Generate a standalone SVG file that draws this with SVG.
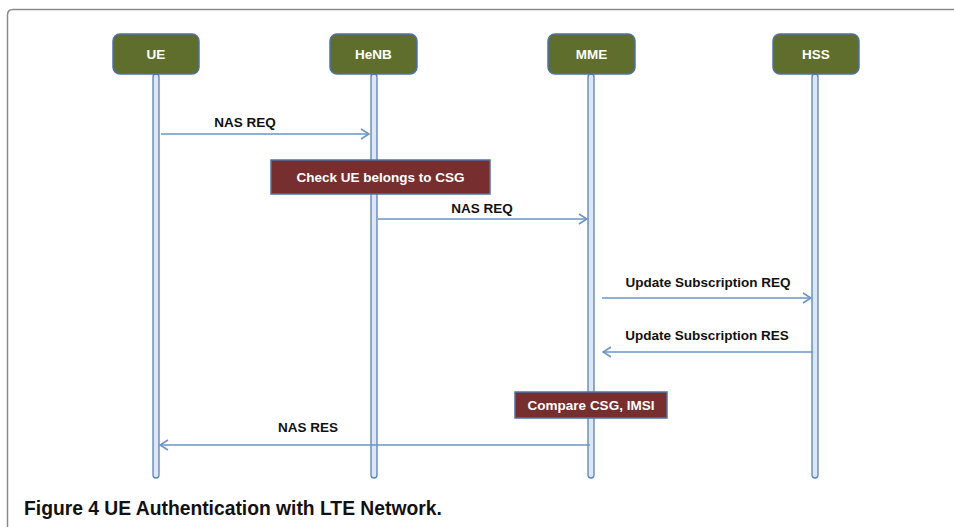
<svg xmlns="http://www.w3.org/2000/svg" width="954" height="527" viewBox="0 0 954 527">
<defs>
<style>
.node rect{fill:#5f6e2d;stroke:#4f72a6;stroke-width:1.5}
.lbl{font-family:"Liberation Sans",Arial,sans-serif;font-weight:bold;font-size:13.5px;text-anchor:middle}
.wt{fill:#ffffff}
.bk{fill:#111111}
.life{fill:#dde7f3;stroke:#5a82b8;stroke-width:1.3}
.act rect{fill:#772e2f;stroke:#4f72a6;stroke-width:1.5}
.msg{stroke:#6b94c9;stroke-width:1.5;fill:none;marker-end:url(#ah)}
.cap{font-family:"Liberation Sans",Arial,sans-serif;font-weight:bold;font-size:19.3px;fill:#111111}
</style>
<marker id="ah" viewBox="0 0 10 12" refX="9" refY="6" markerWidth="10" markerHeight="12" markerUnits="userSpaceOnUse" orient="auto">
<path d="M1,1 L9,6 L1,11" fill="none" stroke="#6b94c9" stroke-width="1.6"/>
</marker>
</defs>
<rect width="954" height="527" fill="#ffffff"/>
<path d="M7.5,527 L7.5,15 Q7.5,9.5 13,9.5 L954,9.5" fill="none" stroke="#8a8a8a" stroke-width="1.5"/>

<g id="lifelines">
<rect class="life" x="153" y="74" width="6" height="404" rx="3"/>
<rect class="life" x="371" y="74" width="6" height="404" rx="3"/>
<rect class="life" x="588" y="74" width="6" height="404" rx="3"/>
<rect class="life" x="812" y="74" width="6" height="404" rx="3"/>
</g>

<g id="node-ue" class="node"><rect x="113" y="34" width="86" height="40" rx="7"/><text class="lbl wt" x="156" y="59">UE</text></g>
<g id="node-henb" class="node"><rect x="330" y="34" width="87" height="40" rx="7"/><text class="lbl wt" x="373.5" y="59">HeNB</text></g>
<g id="node-mme" class="node"><rect x="548" y="34" width="87" height="40" rx="7"/><text class="lbl wt" x="591.5" y="59">MME</text></g>
<g id="node-hss" class="node"><rect x="773" y="34" width="86" height="40" rx="7"/><text class="lbl wt" x="816" y="59">HSS</text></g>

<g id="connectors">
<line class="msg" x1="161" y1="134" x2="369" y2="134"/>
<line class="msg" x1="378" y1="219" x2="587" y2="219"/>
<line class="msg" x1="602" y1="298" x2="811" y2="298"/>
<line class="msg" x1="813" y1="352" x2="603" y2="352"/>
<line class="msg" x1="590" y1="445" x2="160" y2="445"/>
</g>
<g id="connector-labels">
<text class="lbl bk" x="245" y="127">NAS REQ</text>
<text class="lbl bk" x="482" y="213">NAS REQ</text>
<text class="lbl bk" x="708" y="287">Update Subscription REQ</text>
<text class="lbl bk" x="707" y="340">Update Subscription RES</text>
<text class="lbl bk" x="308" y="432">NAS RES</text>
</g>

<g id="act-check" class="act"><rect x="271" y="160" width="219" height="34"/><text class="lbl wt" x="380.5" y="182">Check UE belongs to CSG</text></g>
<g id="act-compare" class="act"><rect x="515" y="392" width="152" height="26"/><text class="lbl wt" x="591" y="410">Compare CSG, IMSI</text></g>

<text class="cap" x="24" y="515">Figure 4 UE Authentication with LTE Network.</text>
</svg>
